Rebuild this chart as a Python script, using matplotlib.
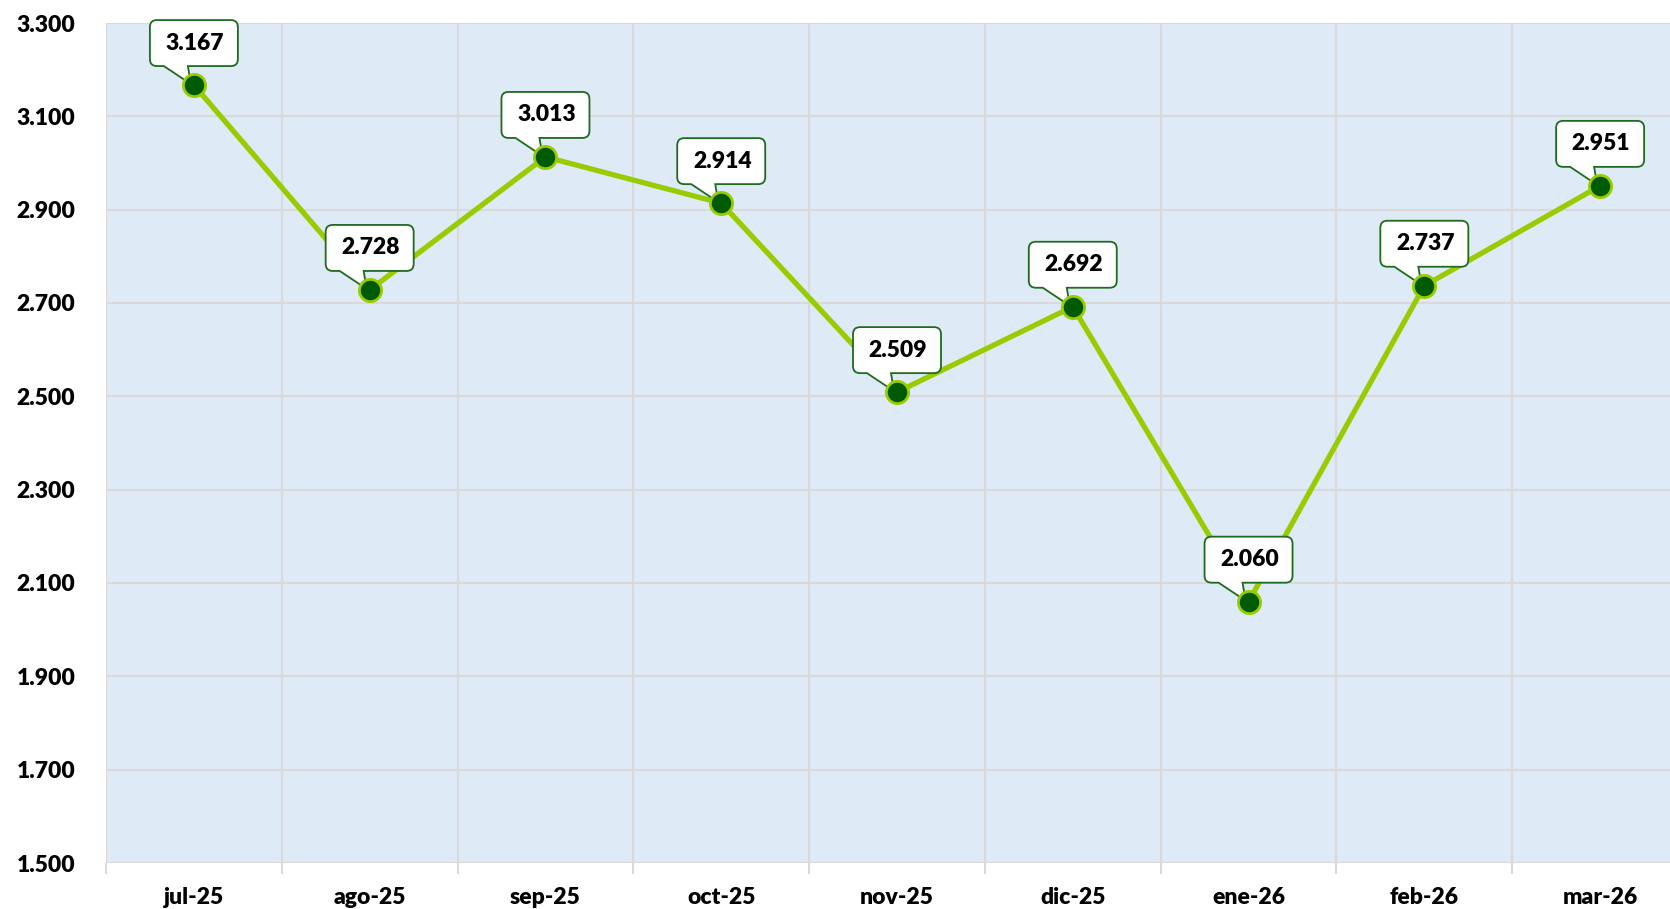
import numpy as np
import matplotlib
matplotlib.use('Agg')
import matplotlib.pyplot as plt
from matplotlib.path import Path
from matplotlib.patches import PathPatch
from matplotlib.transforms import ScaledTranslation

months = ['jul-25', 'ago-25', 'sep-25', 'oct-25', 'nov-25', 'dic-25', 'ene-26', 'feb-26', 'mar-26']
values = [3.167, 2.728, 3.013, 2.914, 2.509, 2.692, 2.060, 2.737, 2.951]
yticks = [1.5, 1.7, 1.9, 2.1, 2.3, 2.5, 2.7, 2.9, 3.1, 3.3]

LINE = '#99CC00'
DOT = '#005A00'
BOX_EDGE = '#1E6B1E'
GRID = '#D9D9D9'
BG = '#DEEAF6'
FS = 16.5
WEIGHT = 'heavy'

plt.rcParams['font.family'] = ['Lato', 'DejaVu Sans']

def callout_path(w=88, h=46, gap=19, r=7):
  # rounded box above the point with a pointer down to it (pixel units)
  L, R = -w / 2, w / 2
  B, T = gap, gap + h
  verts = [(L + r, B), (L + 14, B), (-3, 1), (L + 38, B), (R - r, B),
           (R, B), (R, B + r), (R, T - r), (R, T), (R - r, T),
           (L + r, T), (L, T), (L, T - r), (L, B + r), (L, B), (L + r, B)]
  codes = [Path.MOVETO, Path.LINETO, Path.LINETO, Path.LINETO, Path.LINETO,
           Path.CURVE3, Path.CURVE3, Path.LINETO, Path.CURVE3, Path.CURVE3,
           Path.LINETO, Path.CURVE3, Path.CURVE3, Path.LINETO, Path.CURVE3, Path.CURVE3]
  return Path(verts, codes)

fig = plt.figure(figsize=(16.70, 9.09), dpi=100)
ax = fig.add_axes([106 / 1670, 46 / 909, 1582 / 1670, 840 / 909])
ax.set_facecolor(BG)

x = np.arange(len(months))
ax.plot(x, values, color=LINE, lw=3.8, zorder=3)
ax.plot(x, values, 'o', ms=16, mfc=DOT, mec=LINE, mew=2, zorder=5)

shape = callout_path()
for i, v in enumerate(values):
  tr = ScaledTranslation(i, v, ax.transData)
  ax.add_patch(PathPatch(shape, transform=tr, fc='white', ec=BOX_EDGE,
                         lw=1.3, zorder=4, clip_on=False))
  ax.annotate(f'{v:.3f}', (i, v), xytext=(1, 42), textcoords='offset pixels',
              ha='center', va='center', fontsize=FS, fontweight=WEIGHT,
              color='black', zorder=6)

ax.set_xlim(-0.5, len(months) - 0.5)
ax.set_ylim(1.5, 3.3)
ax.set_yticks(yticks)
ax.set_yticklabels([f'{t:.3f}' for t in yticks], fontsize=FS, fontweight=WEIGHT)
ax.set_xticks(x)
ax.set_xticklabels(months, fontsize=FS, fontweight=WEIGHT)
ax.set_xticks(np.arange(-0.5, len(months)), minor=True)

ax.tick_params(axis='x', which='major', length=0, pad=17)
ax.tick_params(axis='x', which='minor', length=8, width=1.5, color=GRID)
ax.tick_params(axis='y', length=0, pad=22)
ax.grid(axis='y', color=GRID, lw=1.5)
ax.grid(axis='x', which='minor', color=GRID, lw=1.5)
ax.set_axisbelow(True)
for s in ax.spines.values():
  s.set_visible(False)

fig.savefig('out.png', dpi=100)
